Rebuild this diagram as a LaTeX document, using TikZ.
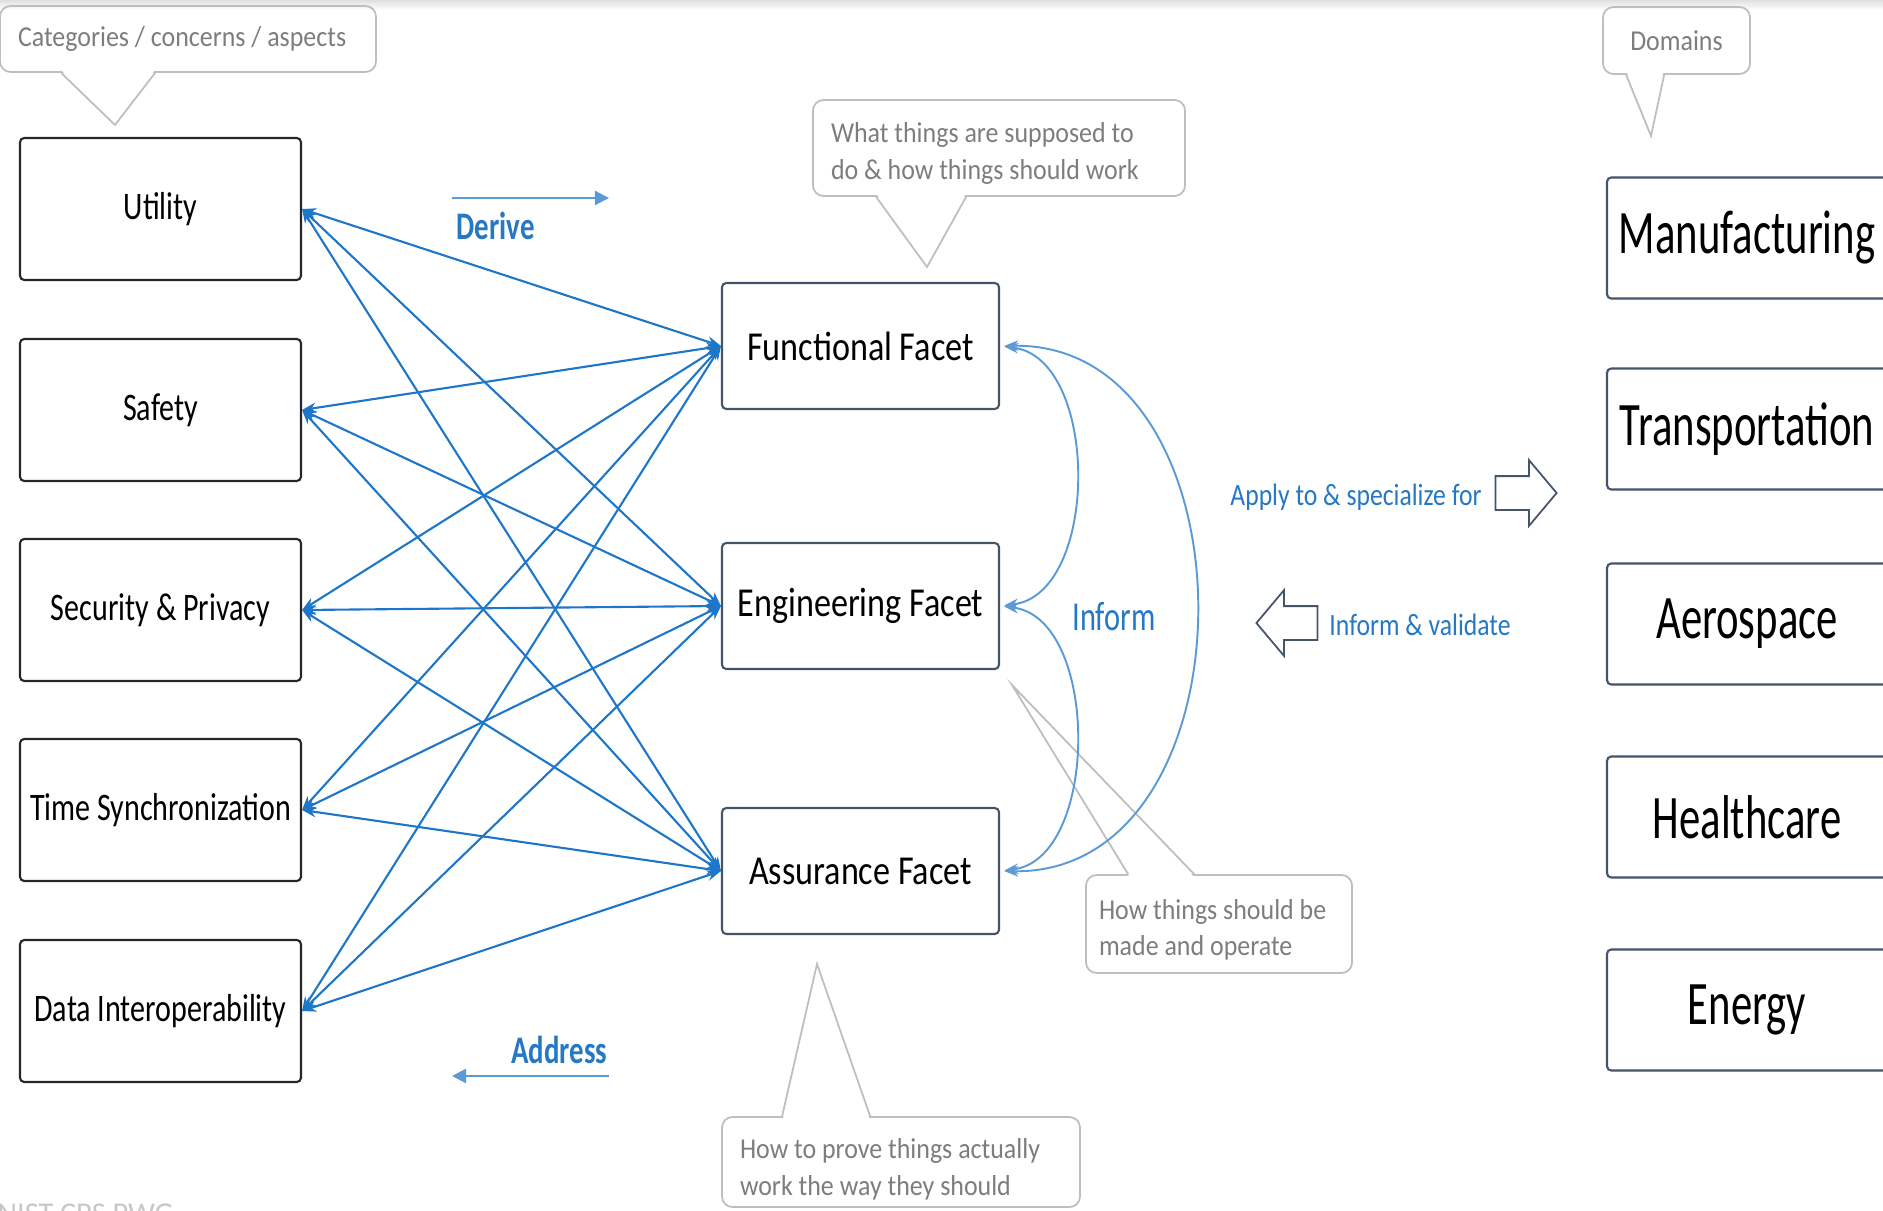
\documentclass[tikz,border=0pt]{standalone}
\usepackage{fontspec}
\setmainfont{Carlito}
\newfontfamily\catfont{Carlito}[FakeStretch=0.77]
\newfontfamily\facetfont{Carlito}[FakeStretch=0.83]
\newfontfamily\domfont{Carlito}[FakeStretch=0.69]
\newfontfamily\notefont{Carlito}[FakeStretch=0.90]
\newfontfamily\verbfont{Carlito}[FakeStretch=0.74]
\usepackage{xcolor}
\usepackage{tikz}
\usetikzlibrary{shapes.arrows, arrows.meta, positioning, calc}
\definecolor{linkblue}{RGB}{30,118,200}
\definecolor{softblue}{RGB}{91,155,213}
\definecolor{labelblue}{RGB}{38,120,196}
\definecolor{slate}{RGB}{68,84,106}
\definecolor{notegray}{RGB}{190,190,190}
\definecolor{notetext}{RGB}{125,125,125}

\begin{document}
\begin{tikzpicture}[
  box/.style={rectangle, draw, rounded corners=1.2pt, line width=0.6pt,
    inner sep=0pt, align=center},
  concern/.style={box, draw=black!85, minimum width=2.81cm, minimum height=1.42cm,
    font=\catfont\fontsize{11.1}{13}\selectfont},
  facet/.style={box, draw=slate, minimum width=2.77cm, minimum height=1.26cm,
    font=\facetfont\fontsize{11.7}{14}\selectfont},
  field/.style={box, draw=slate, minimum width=2.80cm, minimum height=1.21cm,
    font=\domfont\fontsize{17.6}{20}\selectfont},
  note/.style={rectangle, draw=notegray, rounded corners=3pt, line width=0.5pt,
    align=flush left, inner xsep=0.18cm, inner ysep=0pt, text=notetext,
    font=\notefont\fontsize{8.2}{10.5}\selectfont},
  pointer/.style={draw=notegray, line width=0.5pt},
  link/.style={{Stealth[length=4pt,width=3pt]}-{Stealth[length=4pt,width=3pt]},
    linkblue, line width=0.6pt},
  inform/.style={link, softblue, line width=0.55pt, shorten <=1.2pt, shorten >=1.2pt},
  flow/.style={-{Triangle[length=4pt,width=4pt]}, softblue, line width=0.6pt},
  verb/.style={font=\verbfont\bfseries\fontsize{11.1}{13}\selectfont, text=labelblue,
    inner sep=0pt},
  hint/.style={font=\facetfont\fontsize{8.8}{11}\selectfont, text=labelblue, inner sep=0pt},
  blockarrow/.style={single arrow, draw=slate, line width=0.5pt, minimum height=0.61cm,
    minimum width=0pt, inner xsep=0pt, inner ysep=0.16cm,
    single arrow head extend=0.16cm, single arrow tip angle=100},
]
\useasboundingbox (0,0) rectangle (18.83,-12.10);
\shade[top color=black!12, bottom color=white] (0,0) rectangle (18.83,-0.10);

\node[concern] (util) at (1.605,-2.09) {Utility};
\node[concern] (safe) at (1.605,-4.10) {Safety};
\node[concern] (secu) at (1.605,-6.10) {Security \& Privacy};
\node[concern] (time) at (1.605,-8.10) {Time Synchronization};
\node[concern] (data) at (1.605,-10.11) {Data Interoperability};

\node[facet] (func) at (8.605,-3.46) {Functional Facet};
\node[facet] (engr) at (8.605,-6.06) {Engineering Facet};
\node[facet] (assu) at (8.605,-8.71) {Assurance Facet};

\node[field] (manu) at (17.47,-2.38) {Manufacturing};
\node[field] (tran) at (17.47,-4.29) {Transportation};
\node[field] (aero) at (17.47,-6.24) {Aerospace};
\node[field] (heal) at (17.47,-8.17) {Healthcare};
\node[field] (ener) at (17.47,-10.10) {Energy};

\node[note, text width=3.40cm, minimum height=0.66cm] (catnote) at (1.88,-0.39)
  {Categories / concerns / aspects};
\node[note, align=center, minimum width=1.47cm, minimum height=0.67cm] (domnote)
  at (16.765,-0.405) {Domains};
\node[note, text width=3.36cm, minimum height=0.96cm] (whatnote) at (9.99,-1.48)
  {\rule{0pt}{9pt}What things are supposed to\\do \& how things should work};
\node[note, text width=2.40cm, inner xsep=0.13cm, minimum height=0.98cm] (hownote)
  at (12.19,-9.24) {\rule{0pt}{9pt}How things should be\\made and operate};
\node[note, text width=3.22cm, minimum height=0.90cm] (provenote) at (9.01,-11.62)
  {\rule{0pt}{10pt}How to prove things actually\\work the way they should};

\coordinate (cattip) at (1.15,-1.25);
\coordinate (domtip) at (16.51,-1.36);
\coordinate (whattip) at (9.27,-2.67);
\coordinate (howtip) at (10.12,-6.85);
\coordinate (provetip) at (8.17,-9.64);

\fill[white] ($(catnote.south west)+(0.63,0.02)$) -- (cattip) -- ($(catnote.south west)+(1.55,0.02)$) -- cycle;
\draw[pointer] ($(catnote.south west)+(0.62,0)$) -- (cattip) -- ($(catnote.south west)+(1.56,0)$);
\fill[white] ($(domnote.south west)+(0.25,0.02)$) -- (domtip) -- ($(domnote.south west)+(0.61,0.02)$) -- cycle;
\draw[pointer] ($(domnote.south west)+(0.24,0)$) -- (domtip) -- ($(domnote.south west)+(0.62,0)$);
\fill[white] ($(whatnote.south west)+(0.65,0.02)$) -- (whattip) -- ($(whatnote.south west)+(1.53,0.02)$) -- cycle;
\draw[pointer] ($(whatnote.south west)+(0.64,0)$) -- (whattip) -- ($(whatnote.south west)+(1.54,0)$);
\fill[white] ($(hownote.north west)+(0.44,-0.02)$) -- (howtip) -- ($(hownote.north west)+(1.08,-0.02)$) -- cycle;
\draw[pointer] ($(hownote.north west)+(0.43,0)$) -- (howtip) -- ($(hownote.north west)+(1.09,0)$);
\fill[white] ($(provenote.north west)+(0.62,-0.02)$) -- (provetip) -- ($(provenote.north west)+(1.48,-0.02)$) -- cycle;
\draw[pointer] ($(provenote.north west)+(0.61,0)$) -- (provetip) -- ($(provenote.north west)+(1.49,0)$);

\draw[link] (util.east) -- (func.west);
\draw[link] (util.east) -- (engr.west);
\draw[link] (util.east) -- (assu.west);
\draw[link] (safe.east) -- (func.west);
\draw[link] (safe.east) -- (engr.west);
\draw[link] (safe.east) -- (assu.west);
\draw[link] (secu.east) -- (func.west);
\draw[link] (secu.east) -- (engr.west);
\draw[link] (secu.east) -- (assu.west);
\draw[link] (time.east) -- (func.west);
\draw[link] (time.east) -- (engr.west);
\draw[link] (time.east) -- (assu.west);
\draw[link] (data.east) -- (func.west);
\draw[link] (data.east) -- (engr.west);
\draw[link] (data.east) -- (assu.west);

\coordinate (dv-s) at (4.52,-1.98);
\coordinate (dv-e) at (6.09,-1.98);
\draw[flow] (dv-s) -- (dv-e);
\node[verb, anchor=west] (derive) at (4.56,-2.26) {Derive};
\coordinate (ad-s) at (6.09,-10.76);
\coordinate (ad-e) at (4.52,-10.76);
\draw[flow] (ad-s) -- (ad-e);
\node[verb, anchor=east] (address) at (6.08,-10.50) {Address};

\draw[inform] (func.east) .. controls +(1.0,-0.12) and +(1.0,0.12) .. (engr.east);
\draw[inform] (engr.east) .. controls +(1.0,-0.12) and +(1.0,0.12) .. (assu.east);
\draw[inform] (func.east) .. controls +(2.6,0.05) and +(2.6,-0.05) .. (assu.east);
\node[verb, font=\verbfont\fontsize{11.7}{14}\selectfont] (informtxt) at (11.14,-6.17) {Inform};

\node[hint] (applytxt) at (13.56,-4.97) {Apply to \& specialize for};
\node[blockarrow] (applyarr) at (15.19,-4.93) {};
\node[hint] (validtxt) at (14.20,-6.25) {Inform \& validate};
\node[blockarrow, shape border rotate=180] (validarr) at (12.94,-6.23) {};

\node[anchor=north west, inner sep=0pt, text=black!22, font=\fontsize{8.6}{10}\selectfont]
  (mark) at (-0.03,-12.03) {NIST CPS PWG};
\end{tikzpicture}
\end{document}
